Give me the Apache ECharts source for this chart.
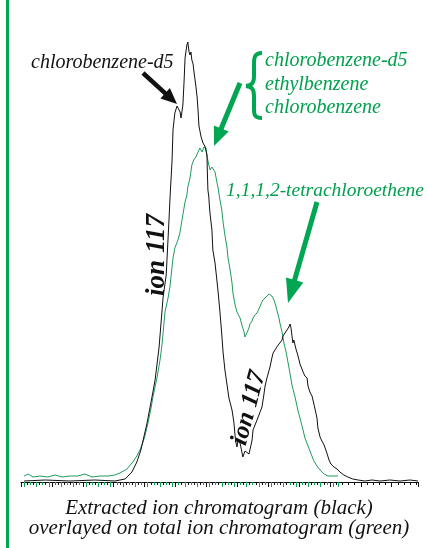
<!DOCTYPE html>
<html>
<head>
<meta charset="utf-8">
<script src="https://cdn.jsdelivr.net/npm/echarts@6/dist/echarts.min.js"></script>
<style>
  html, body { margin: 0; padding: 0; background: #fff; }
  #chart { width: 427px; height: 548px; }
</style>
</head>
<body>
<div id="chart"></div>
<script>
// Scan number vs. abundance for the two traces.
// Extracted ion chromatogram, m/z 117 (black)
const ion117 = [
  [1.0,1],[7.8,2],[15.9,1],[23.9,2],[30.4,1],[33.7,3],[35.9,10],[37.5,20],[38.8,32],
  [40.8,59],[42.4,85],[43.4,102],[44.7,135],[46.0,185],[47.0,207],[47.9,262],[48.2,282],
  [48.9,322],[49.2,352],[49.8,369],[50.5,376],[50.8,378],[51.5,370],[51.8,364],[52.1,366],
  [52.4,377],[52.8,402],[53.1,424],[53.7,437],[54.0,440],[54.4,430],[54.7,427],[55.0,430],
  [55.3,422],[55.7,418],[56.0,410],[56.6,396],[57.0,385],[57.3,372],[57.6,356],[58.3,345],
  [58.9,339],[59.5,336],[59.9,337],[60.2,327],[60.3,312],[60.5,292],[60.8,285],[61.0,275],
  [61.2,268],[61.5,260],[61.8,252],[62.1,232],[62.8,219],[63.4,202],[63.8,190],[64.4,170],
  [65.0,147],[65.4,130],[66.0,112],[66.7,97],[67.3,84],[68.3,72],[68.9,60],[69.3,46],
  [69.6,39],[69.9,35],[70.2,41],[70.9,39],[71.5,30],[71.8,25],[72.5,31],[73.1,32],[73.8,28],
  [74.1,30],[74.8,42],[75.1,52],[75.7,54],[76.4,62],[77.0,64],[78.0,75],[78.6,87],[79.0,96],
  [79.6,104],[80.6,115],[81.2,124],[81.6,129],[82.2,132],[82.8,135],[83.5,138],[83.8,140],
  [84.5,142],[84.8,146],[85.4,148],[86.1,152],[86.4,150],[86.7,155],[87.1,158],[87.4,154],
  [87.7,156],[88.0,139],[88.3,142],[89.0,133],[89.3,130],[90.0,122],[90.3,118],[90.9,116],
  [91.3,110],[91.9,106],[92.6,104],[92.9,96],[93.5,90],[94.2,86],[94.5,82],[95.1,74],
  [95.8,64],[96.1,54],[96.8,45],[97.4,41],[98.1,37],[99.0,29],[99.7,22],[100.3,18],
  [101.3,15],[102.3,13],[103.2,10],[104.5,7],[105.8,5],[107.4,3],[109.1,2],[111.3,1],
  [113.6,2],[116.2,1],[119.4,2],[122.7,1],[125.9,2],[128.5,1]
];

// Total ion chromatogram (green)
const totalIon = [
  [1.0,6],[2.3,8],[3.9,5],[6.1,6],[8.7,5],[11.0,7],[13.3,5],[15.9,6],[18.4,6],[20.7,8],
  [23.0,5],[25.6,6],[28.2,6],[30.4,7],[32.0,9],[34.3,13],[36.2,20],[37.5,26],[38.5,32],
  [39.5,40],[40.1,46],[41.1,59],[42.1,74],[42.7,85],[44.0,104],[45.0,122],[45.6,136],
  [46.6,170],[47.6,184],[48.2,195],[49.2,224],[49.8,234],[50.8,242],[51.5,250],[52.1,262],
  [53.1,280],[53.7,287],[54.0,295],[54.7,304],[55.3,317],[55.9,322],[56.6,325],[57.3,330],
  [57.9,334],[58.6,330],[59.2,335],[59.5,337],[59.9,334],[60.2,326],[60.8,317],[61.2,312],
  [61.8,315],[62.1,317],[62.8,310],[63.4,300],[63.8,294],[64.4,282],[65.0,272],[65.4,260],
  [66.0,247],[66.7,234],[67.0,224],[67.6,214],[68.3,199],[68.6,189],[69.3,177],[69.9,170],
  [70.9,164],[71.5,157],[72.2,150],[72.5,145],[73.1,149],[73.8,154],[74.1,158],[74.8,161],
  [75.1,164],[75.7,167],[76.4,169],[77.0,173],[77.7,178],[78.3,182],[79.0,184],[79.6,185],
  [80.3,188],[80.9,188],[81.2,186],[81.9,182],[82.5,176],[82.8,172],[83.5,164],[83.8,159],
  [84.5,150],[85.1,139],[85.8,130],[86.4,120],[87.1,108],[87.7,97],[88.7,85],[89.6,72],
  [90.3,64],[91.3,52],[91.9,44],[92.9,36],[93.9,28],[94.8,21],[95.8,16],[96.8,12],
  [98.1,8],[99.4,6],[101.0,6],[102.6,6]
];

const scanRange = [0, 128.5];      // full scan window
const ticScanRange = [1, 102.6];   // scans covered by the total ion trace
const abundanceMax = 440;

const BLACK = '#111111';
const GREEN_LINE = '#1f9a5e';
const GREEN_TEXT = '#00a04e';
const GREEN_MARK = '#00a651';

const serifItalic = (size, weight) =>
  `italic ${weight || 'normal'} ${size}px "Liberation Serif", "Times New Roman", serif`;

// straight arrow from (x1,y1) to the tip (x2,y2)
function arrow(x1, y1, x2, y2, color, width, headLen, headWidth) {
  const dx = x2 - x1, dy = y2 - y1;
  const len = Math.hypot(dx, dy);
  const ux = dx / len, uy = dy / len;
  const bx = x2 - ux * headLen, by = y2 - uy * headLen;
  const px = -uy * headWidth / 2, py = ux * headWidth / 2;
  return {
    type: 'group',
    children: [
      { type: 'line', shape: { x1: x1, y1: y1, x2: bx + ux * 2, y2: by + uy * 2 },
        style: { stroke: color, lineWidth: width } },
      { type: 'polygon', shape: { points: [[x2, y2], [bx + px, by + py], [bx - px, by - py]] },
        style: { fill: color } }
    ]
  };
}

// curly brace made of bezier pieces
function brace(color, width) {
  const seg = (x1, y1, cpx1, cpy1, cpx2, cpy2, x2, y2) => ({
    type: 'bezierCurve',
    shape: { x1, y1, cpx1, cpy1, cpx2, cpy2, x2, y2 },
    style: { stroke: color, lineWidth: width, fill: null }
  });
  return {
    type: 'group',
    children: [
      seg(262, 53, 253, 53, 254, 60, 254, 68),
      { type: 'line', shape: { x1: 254, y1: 68, x2: 254, y2: 76 }, style: { stroke: color, lineWidth: width } },
      seg(254, 76, 254, 83, 252, 85, 246, 86),
      seg(246, 86, 252, 87, 254, 89, 254, 96),
      { type: 'line', shape: { x1: 254, y1: 96, x2: 254, y2: 105 }, style: { stroke: color, lineWidth: width } },
      seg(254, 105, 254, 113, 253, 118, 262, 118)
    ]
  };
}

function label(text, x, y, color, font) {
  return {
    type: 'text', x: x, y: y,
    style: { text: text, fill: color, font: font, textAlign: 'left', textVerticalAlign: 'bottom' }
  };
}

const chart = echarts.init(document.getElementById('chart'), null, { renderer: 'canvas' });

chart.setOption({
  animation: false,
  backgroundColor: '#ffffff',
  grid: [
    { left: 21, right: 9, top: 42, bottom: 66 },
    { left: 24.09, right: 89, top: 42, bottom: 66 }
  ],
  xAxis: [
    {
      type: 'value', gridIndex: 0, min: scanRange[0], max: scanRange[1], interval: 10,
      axisLine: { show: true, lineStyle: { color: BLACK, width: 1 } },
      axisTick: { show: true, length: 5, lineStyle: { color: BLACK, width: 1 } },
      minorTick: { show: true, splitNumber: 5, length: 3, lineStyle: { color: BLACK, width: 1 } },
      axisLabel: { show: false },
      splitLine: { show: false }
    },
    {
      type: 'value', gridIndex: 1, min: ticScanRange[0], max: ticScanRange[1], interval: 4,
      axisLine: { show: false },
      axisTick: { show: true, length: 5, lineStyle: { color: GREEN_MARK, width: 1 } },
      minorTick: { show: true, splitNumber: 2, length: 3, lineStyle: { color: GREEN_MARK, width: 1 } },
      axisLabel: { show: false },
      splitLine: { show: false }
    }
  ],
  yAxis: [
    { type: 'value', gridIndex: 0, min: 0, max: abundanceMax, show: false },
    { type: 'value', gridIndex: 1, min: 0, max: abundanceMax, show: false }
  ],
  series: [
    {
      name: 'total ion chromatogram', type: 'line', xAxisIndex: 0, yAxisIndex: 0,
      data: totalIon, showSymbol: false, symbol: 'none',
      lineStyle: { color: GREEN_LINE, width: 1 }, z: 2
    },
    {
      name: 'ion 117', type: 'line', xAxisIndex: 0, yAxisIndex: 0,
      data: ion117, showSymbol: false, symbol: 'none',
      lineStyle: { color: BLACK, width: 1 }, z: 3
    }
  ],
  graphic: [
    // frame rule on the left
    { type: 'rect', shape: { x: 6, y: 0, width: 3, height: 548 }, style: { fill: GREEN_MARK } },

    label('chlorobenzene-d5', 31, 73, BLACK, serifItalic(20)),
    arrow(143, 73, 177, 104, BLACK, 4.5, 16, 14),

    // bracketed co-eluting compounds
    brace(GREEN_MARK, 4),
    label('chlorobenzene-d5', 265, 71, GREEN_TEXT, serifItalic(20)),
    label('ethylbenzene', 265, 95, GREEN_TEXT, serifItalic(20)),
    label('chlorobenzene', 265, 118, GREEN_TEXT, serifItalic(20)),
    arrow(240, 83, 214, 146, GREEN_MARK, 5, 19, 16),

    label('1,1,1,2-tetrachloroethene', 226, 201, GREEN_TEXT, serifItalic(19.5)),
    arrow(317, 202, 288, 303, GREEN_MARK, 5, 24, 18),

    { type: 'text', x: 157, y: 255, rotation: Math.PI / 2,
      style: { text: 'ion 117', fill: BLACK, font: serifItalic(27, 'bold'),
               textAlign: 'center', textVerticalAlign: 'middle' } },
    { type: 'text', x: 249, y: 408, rotation: 75 * Math.PI / 180,
      style: { text: 'ion 117', fill: BLACK, font: serifItalic(25, 'bold'),
               textAlign: 'center', textVerticalAlign: 'middle' } },

    { type: 'text', x: 219, y: 519,
      style: { text: 'Extracted ion chromatogram (black)', fill: BLACK, font: serifItalic(21),
               textAlign: 'center', textVerticalAlign: 'bottom' } },
    { type: 'text', x: 219, y: 539,
      style: { text: 'overlayed on total ion chromatogram (green)', fill: BLACK, font: serifItalic(21),
               textAlign: 'center', textVerticalAlign: 'bottom' } }
  ]
});
</script>
</body>
</html>
